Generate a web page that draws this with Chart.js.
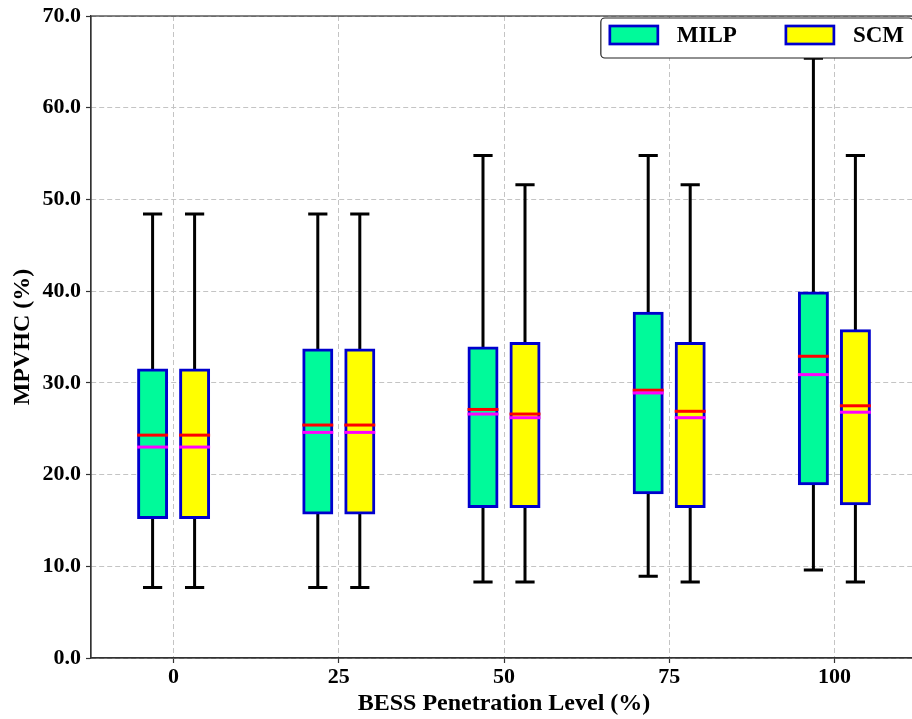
<!DOCTYPE html>
<html>
<head>
<meta charset="utf-8">
<title>MPVHC vs BESS penetration</title>
<script src="https://cdn.jsdelivr.net/npm/chart.js@4.4.1/dist/chart.umd.min.js"></script>
<style>
  html, body { margin: 0; padding: 0; background: #ffffff; overflow: hidden; width: 912px; height: 719px; }
  canvas { display: block; }
</style>
</head>
<body>
<canvas id="chart" width="920" height="719"></canvas>
<script>
// BESS penetration levels (%)
const levels = ['0', '25', '50', '75', '100'];
const yTickValues = [0, 10, 20, 30, 40, 50, 60, 70];

// MILP distribution statistics per level
const milpMin    = [7.7, 7.7, 8.3, 8.9, 9.6];
const milpQ1     = [15.3, 15.8, 16.5, 18.0, 19.0];
const milpMedian = [24.3, 25.4, 27.1, 29.2, 32.9];
const milpMean   = [23.0, 24.6, 26.6, 28.9, 30.9];
const milpQ3     = [31.4, 33.6, 33.8, 37.6, 39.8];
const milpMax    = [48.4, 48.4, 54.8, 54.8, 65.4];

// SCM distribution statistics per level
const scmMin    = [7.7, 7.7, 8.3, 8.3, 8.3];
const scmQ1     = [15.3, 15.8, 16.5, 16.5, 16.8];
const scmMedian = [24.3, 25.4, 26.6, 26.9, 27.5];
const scmMean   = [23.0, 24.6, 26.2, 26.2, 26.8];
const scmQ3     = [31.4, 33.6, 34.3, 34.3, 35.7];
const scmMax    = [48.4, 48.4, 51.6, 51.6, 54.8];

const FONT = "'Liberation Serif', 'Times New Roman', Times, serif";
const BOX_EDGE = '#0000cd';
const INFLATE = 1.4;

Chart.defaults.font.family = FONT;
Chart.defaults.color = '#000000';

function boxSeries(label, fill, lo, q1, med, mean, q3, hi) {
  return {
    label: label,
    data: q1.map((v, i) => [v, q3[i]]),
    backgroundColor: fill,
    borderColor: BOX_EDGE,
    borderWidth: 3,
    borderSkipped: false,
    inflateAmount: INFLATE,
    categoryPercentage: 0.5085,
    barPercentage: 0.671,
    whiskerLow: lo,
    whiskerHigh: hi,
    median: med,
    mean: mean
  };
}

// Whiskers, caps, median/mean lines, axes frame and legend box
const boxPlotParts = {
  id: 'boxPlotParts',
  beforeDatasetsDraw(chart) {
    const ctx = chart.ctx, y = chart.scales.y;
    ctx.save();
    ctx.strokeStyle = '#000000';
    ctx.lineWidth = 3;
    ctx.lineCap = 'butt';
    chart.data.datasets.forEach((ds, di) => {
      chart.getDatasetMeta(di).data.forEach((el, i) => {
        const full = el.width + 2 * INFLATE;
        const half = full * 0.31;
        const yLo = y.getPixelForValue(ds.whiskerLow[i]);
        const yHi = y.getPixelForValue(ds.whiskerHigh[i]);
        ctx.beginPath();
        ctx.moveTo(el.x, yLo); ctx.lineTo(el.x, yHi);
        ctx.moveTo(el.x - half, yLo); ctx.lineTo(el.x + half, yLo);
        ctx.moveTo(el.x - half, yHi); ctx.lineTo(el.x + half, yHi);
        ctx.stroke();
      });
    });
    ctx.restore();
  },
  afterDatasetsDraw(chart) {
    const ctx = chart.ctx, y = chart.scales.y, area = chart.chartArea;
    ctx.save();
    ctx.lineWidth = 3;
    chart.data.datasets.forEach((ds, di) => {
      chart.getDatasetMeta(di).data.forEach((el, i) => {
        const half = el.width / 2 + INFLATE;
        [[ds.median[i], '#ff0000'], [ds.mean[i], '#ff00ff']].forEach(([v, c]) => {
          const py = y.getPixelForValue(v);
          ctx.strokeStyle = c;
          ctx.beginPath();
          ctx.moveTo(el.x - half, py); ctx.lineTo(el.x + half, py);
          ctx.stroke();
        });
      });
    });
    // axes frame
    ctx.strokeStyle = '#333333';
    ctx.lineWidth = 1.2;
    ctx.strokeRect(area.left, area.top, area.right - area.left, area.bottom - area.top);
    ctx.restore();
  },
  afterDraw(chart) {
    const ctx = chart.ctx, area = chart.chartArea;
    ctx.save();
    ctx.font = 'bold 23px ' + FONT;
    const sw = 48, sh = 18, pad = 9, gap = 19, colGap = 49, h = 40;
    const items = chart.data.datasets.map(d => ({
      label: d.label, fill: d.backgroundColor, edge: d.borderColor,
      w: ctx.measureText(d.label).width
    }));
    const total = pad * 2 + items.reduce((s, it) => s + sw + gap + it.w, 0) + colGap * (items.length - 1);
    const right = area.right - 4, top = area.top + 2, left = right - total, r = 4;
    ctx.beginPath();
    ctx.moveTo(left + r, top);
    ctx.lineTo(right - r, top); ctx.arcTo(right, top, right, top + r, r);
    ctx.lineTo(right, top + h - r); ctx.arcTo(right, top + h, right - r, top + h, r);
    ctx.lineTo(left + r, top + h); ctx.arcTo(left, top + h, left, top + h - r, r);
    ctx.lineTo(left, top + r); ctx.arcTo(left, top, left + r, top, r);
    ctx.closePath();
    ctx.fillStyle = '#ffffff';
    ctx.fill();
    ctx.lineWidth = 1.2;
    ctx.strokeStyle = '#222222';
    ctx.stroke();
    let x = left + pad;
    items.forEach((it, k) => {
      const sy = top + 17 - sh / 2;
      ctx.fillStyle = it.fill;
      ctx.fillRect(x, sy, sw, sh);
      ctx.lineWidth = 2.7;
      ctx.strokeStyle = it.edge;
      ctx.strokeRect(x, sy, sw, sh);
      x += sw + gap;
      ctx.fillStyle = '#000000';
      ctx.textAlign = 'left';
      ctx.textBaseline = 'middle';
      ctx.fillText(it.label, x, top + 18);
      x += it.w + (k < items.length - 1 ? colGap : 0);
    });
    ctx.restore();
  }
};

new Chart(document.getElementById('chart'), {
  type: 'bar',
  data: {
    labels: levels,
    datasets: [
      boxSeries('MILP', '#00fa9a', milpMin, milpQ1, milpMedian, milpMean, milpQ3, milpMax),
      boxSeries('SCM', '#ffff00', scmMin, scmQ1, scmMedian, scmMean, scmQ3, scmMax)
    ]
  },
  options: {
    responsive: false,
    animation: false,
    events: [],
    layout: { padding: { top: 15, right: 3, bottom: 0, left: 0 } },
    plugins: { legend: { display: false }, tooltip: { enabled: false } },
    scales: {
      x: {
        type: 'category',
        offset: true,
        grid: {
          offset: false, color: '#c4c4c4', lineWidth: 1,
          drawTicks: true, tickLength: 5, tickColor: '#333333', tickWidth: 1.2
        },
        border: { display: true, color: '#333333', width: 1.2, dash: [5, 3] },
        ticks: { font: { size: 22, weight: 'bold', lineHeight: 1 }, padding: 3, color: '#000000' },
        title: {
          display: true, text: 'BESS Penetration Level (%)', color: '#000000',
          font: { size: 24, weight: 'bold', lineHeight: 1 }, padding: { top: 0, bottom: 3 }
        },
        afterFit(scale) { scale.height = 61; }
      },
      y: {
        type: 'linear',
        min: 0,
        max: 70,
        stacked: false,
        grid: {
          color: '#c4c4c4', lineWidth: 1,
          drawTicks: true, tickLength: 5, tickColor: '#333333', tickWidth: 1.2
        },
        border: { display: true, color: '#333333', width: 1.2, dash: [5, 3] },
        afterBuildTicks(scale) { scale.ticks = yTickValues.map(v => ({ value: v })); },
        ticks: {
          font: { size: 22, weight: 'bold', lineHeight: 1 }, padding: 5, color: '#000000',
          callback: v => Number(v).toFixed(1)
        },
        title: {
          display: true, text: 'MPVHC (%)', color: '#000000',
          font: { size: 24, weight: 'bold', lineHeight: 1 }, padding: { top: 11, bottom: 0 }
        },
        afterFit(scale) { scale.width = 91; }
      }
    }
  },
  plugins: [boxPlotParts]
});
</script>
</body>
</html>
